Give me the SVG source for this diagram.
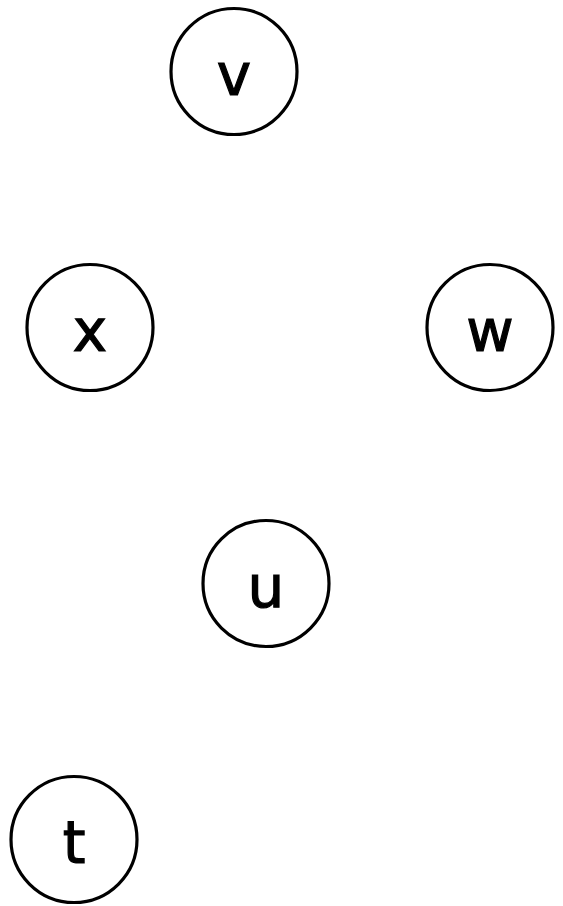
<svg xmlns="http://www.w3.org/2000/svg" width="563" height="906" viewBox="0 0 563 906">
<style>
.n circle{fill:#fff;stroke:#000;stroke-width:3.2}
.n text{font-family:"DejaVu Sans","Liberation Sans",sans-serif;font-size:58px;text-anchor:middle;fill:#000;stroke:#000;stroke-width:1.2}
</style>
<rect width="563" height="906" fill="#fff"/>
<g id="connectors"></g>
<g id="v" class="n"><circle cx="234" cy="71.5" r="63"/><text x="234" y="95">v</text></g>
<g id="x" class="n"><circle cx="90" cy="327.5" r="63"/><text x="90" y="351">x</text></g>
<g id="w" class="n"><circle cx="490" cy="327.5" r="63"/><text x="490" y="351">w</text></g>
<g id="u" class="n"><circle cx="266" cy="583.5" r="63"/><text x="266" y="607">u</text></g>
<g id="t" class="n"><circle cx="74" cy="839.5" r="63"/><text x="74" y="863">t</text></g>
</svg>
